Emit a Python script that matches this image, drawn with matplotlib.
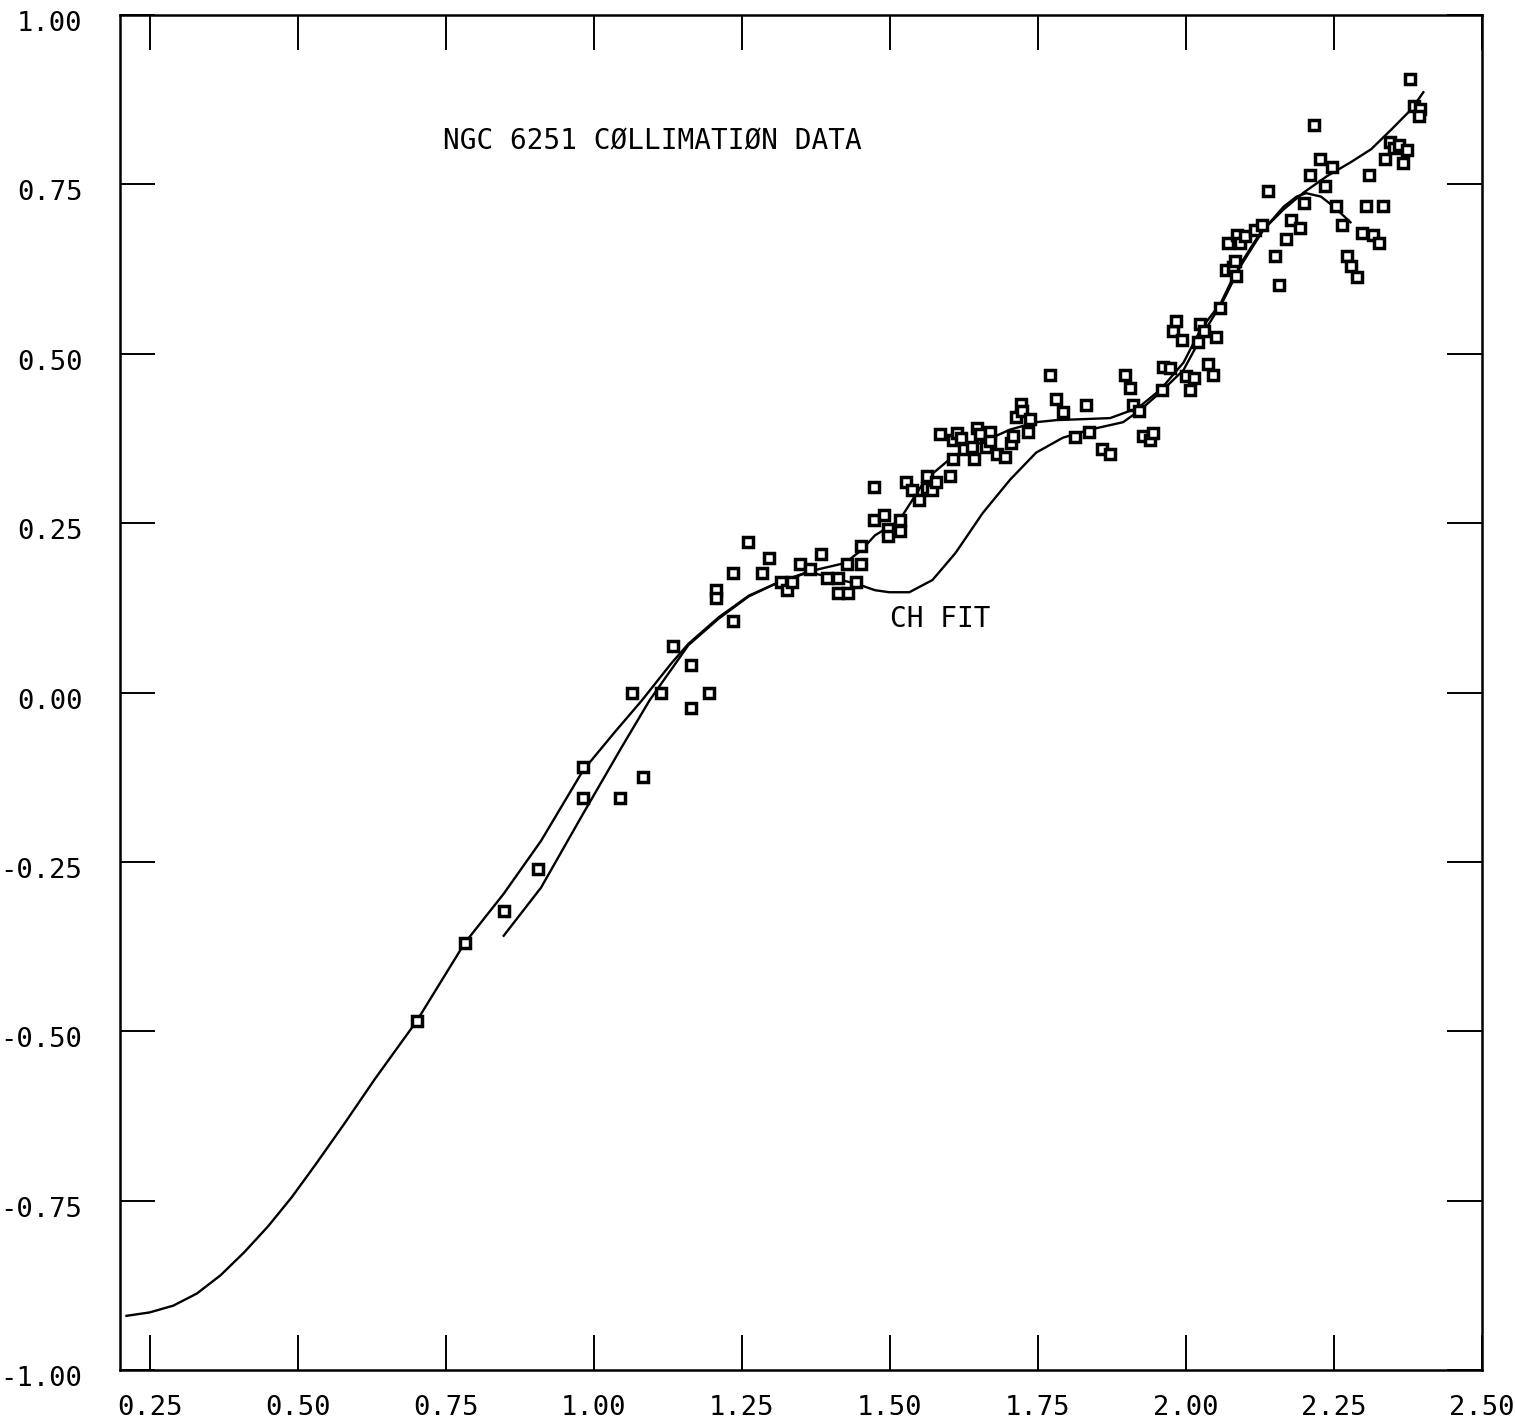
import numpy as np
import matplotlib
matplotlib.use("Agg")
import matplotlib.pyplot as plt
from matplotlib.transforms import ScaledTranslation

# collimation data points
data_x = [0.702, 0.783, 0.849, 0.906, 0.982, 0.982, 1.044, 1.083, 1.065, 1.114,
          1.194, 1.134, 1.165, 1.165, 1.206, 1.206, 1.236, 1.235, 1.260, 1.284,
          1.296, 1.316, 1.327, 1.335, 1.348, 1.366, 1.384, 1.394, 1.412, 1.412,
          1.429, 1.443, 1.428, 1.452, 1.452, 1.474, 1.474, 1.491, 1.517, 1.497,
          1.497, 1.517, 1.528, 1.537, 1.549, 1.562, 1.562, 1.572, 1.578, 1.585,
          1.601, 1.606, 1.606, 1.614, 1.621, 1.626, 1.639, 1.643, 1.647, 1.653,
          1.662, 1.669, 1.670, 1.681, 1.695, 1.705, 1.708, 1.713, 1.722, 1.723,
          1.736, 1.734, 1.770, 1.781, 1.792, 1.812, 1.831, 1.836, 1.858, 1.872,
          1.897, 1.905, 1.910, 1.921, 1.928, 1.939, 1.944, 1.959, 1.961, 1.973,
          1.979, 1.983, 1.993, 2.001, 2.014, 2.007, 2.020, 2.024, 2.030, 2.037,
          2.045, 2.051, 2.058, 2.067, 2.079, 2.083, 2.085, 2.071, 2.086, 2.091,
          2.100, 2.116, 2.128, 2.138, 2.151, 2.158, 2.169, 2.178, 2.192, 2.199,
          2.209, 2.216, 2.226, 2.235, 2.246, 2.253, 2.264, 2.272, 2.278, 2.289,
          2.298, 2.304, 2.310, 2.316, 2.326, 2.333, 2.336, 2.344, 2.352, 2.360,
          2.366, 2.373, 2.378, 2.386, 2.395, 2.393]
data_y = [-0.485, -0.370, -0.322, -0.260, -0.110, -0.155, -0.155, -0.125, 0.000, 0.000,
          0.000, 0.068, 0.041, -0.023, 0.151, 0.140, 0.105, 0.176, 0.222, 0.176,
          0.198, 0.163, 0.152, 0.163, 0.189, 0.183, 0.205, 0.169, 0.169, 0.147,
          0.147, 0.163, 0.190, 0.189, 0.216, 0.303, 0.255, 0.262, 0.255, 0.242,
          0.231, 0.239, 0.310, 0.299, 0.284, 0.320, 0.302, 0.299, 0.310, 0.381,
          0.320, 0.344, 0.372, 0.383, 0.376, 0.359, 0.362, 0.344, 0.391, 0.382,
          0.362, 0.384, 0.371, 0.352, 0.348, 0.368, 0.378, 0.407, 0.426, 0.415,
          0.403, 0.384, 0.468, 0.433, 0.414, 0.377, 0.425, 0.385, 0.359, 0.352,
          0.468, 0.450, 0.424, 0.416, 0.378, 0.372, 0.383, 0.446, 0.480, 0.479,
          0.533, 0.548, 0.521, 0.467, 0.464, 0.446, 0.518, 0.544, 0.534, 0.485,
          0.468, 0.525, 0.568, 0.623, 0.628, 0.637, 0.615, 0.664, 0.675, 0.664,
          0.674, 0.683, 0.690, 0.740, 0.645, 0.601, 0.670, 0.697, 0.686, 0.722,
          0.764, 0.838, 0.787, 0.747, 0.775, 0.718, 0.690, 0.645, 0.630, 0.613,
          0.678, 0.718, 0.764, 0.675, 0.663, 0.718, 0.788, 0.812, 0.804, 0.808,
          0.781, 0.801, 0.906, 0.866, 0.861, 0.851]

# smooth curve through the data
curve_x = [0.211, 0.250, 0.290, 0.330, 0.370, 0.410, 0.450, 0.490, 0.530, 0.580,
           0.630, 0.701, 0.782, 0.848, 0.911, 0.982, 1.035, 1.081, 1.131, 1.160,
           1.211, 1.262, 1.313, 1.365, 1.424, 1.452, 1.475, 1.516, 1.560, 1.606,
           1.652, 1.703, 1.747, 1.781, 1.872, 1.919, 1.957, 1.996, 2.025, 2.059,
           2.086, 2.126, 2.165, 2.199, 2.238, 2.279, 2.313, 2.347, 2.381, 2.401]
curve_y = [-0.920, -0.915, -0.905, -0.887, -0.860, -0.826, -0.788, -0.745, -0.697, -0.635,
           -0.571, -0.485, -0.370, -0.297, -0.219, -0.115, -0.059, -0.012, 0.043, 0.072,
           0.111, 0.143, 0.163, 0.179, 0.191, 0.210, 0.232, 0.254, 0.314, 0.348,
           0.368, 0.388, 0.399, 0.402, 0.405, 0.420, 0.447, 0.487, 0.536, 0.575,
           0.624, 0.679, 0.713, 0.738, 0.762, 0.783, 0.802, 0.831, 0.861, 0.886]

# CH fit
ch_x = [0.848, 0.911, 0.982, 1.047, 1.094, 1.114, 1.160, 1.211, 1.262, 1.313,
        1.365, 1.397, 1.442, 1.475, 1.499, 1.533, 1.572, 1.611, 1.657, 1.703,
        1.747, 1.792, 1.838, 1.894, 1.923, 1.958, 1.996, 2.030, 2.064, 2.092,
        2.131, 2.165, 2.187, 2.203, 2.228, 2.250, 2.267, 2.278]
ch_y = [-0.359, -0.288, -0.179, -0.081, -0.012, 0.013, 0.070, 0.109, 0.142, 0.163,
        0.178, 0.170, 0.161, 0.151, 0.148, 0.148, 0.166, 0.206, 0.265, 0.314,
        0.354, 0.376, 0.388, 0.399, 0.417, 0.444, 0.476, 0.531, 0.580, 0.629,
        0.683, 0.717, 0.732, 0.737, 0.732, 0.717, 0.703, 0.694]

xticks = [0.25, 0.50, 0.75, 1.00, 1.25, 1.50, 1.75, 2.00, 2.25, 2.50]
yticks = [-1.00, -0.75, -0.50, -0.25, 0.00, 0.25, 0.50, 0.75, 1.00]

plt.rcParams['font.family'] = ['DejaVu Sans Mono', 'DejaVu Sans']

fig = plt.figure(figsize=(15.15, 14.28), dpi=100)
ax = fig.add_axes([0.0792, 0.0406, 0.899, 0.9489])

ax.plot(curve_x, curve_y, color='black', lw=1.7, zorder=2)
ax.plot(ch_x, ch_y, color='black', lw=1.7, zorder=2)
ax.plot(data_x, data_y, ls='none', marker='s', ms=6.5, mfc='white', mec='black', mew=2.5, zorder=3)

ax.text(0.745, 0.814, 'NGC 6251 CØLLIMATIØN DATA', fontsize=20, va='center', ha='left')
ax.text(1.501, 0.109, 'CH FIT', fontsize=20, va='center', ha='left')

ax.set_xlim(0.2, 2.5)
ax.set_ylim(-1.0, 1.0)
ax.set_xticks(xticks)
ax.set_yticks(yticks)
ax.set_xticklabels(['%.2f' % v for v in xticks])
ax.set_yticklabels(['%.2f' % v for v in yticks])
ax.tick_params(axis='both', direction='in', length=25, width=1.4, labelsize=19.5,
               top=True, right=True, color='black')
ax.tick_params(axis='x', pad=18)
ax.tick_params(axis='y', pad=27)
for s in ax.spines.values():
    s.set_linewidth(1.8)

# y labels sit a little below their ticks in the original
shift = ScaledTranslation(0, -0.06, fig.dpi_scale_trans)
for lab in ax.get_yticklabels():
    lab.set_transform(lab.get_transform() + shift)

fig.savefig('out.png', dpi=100, facecolor='white')
